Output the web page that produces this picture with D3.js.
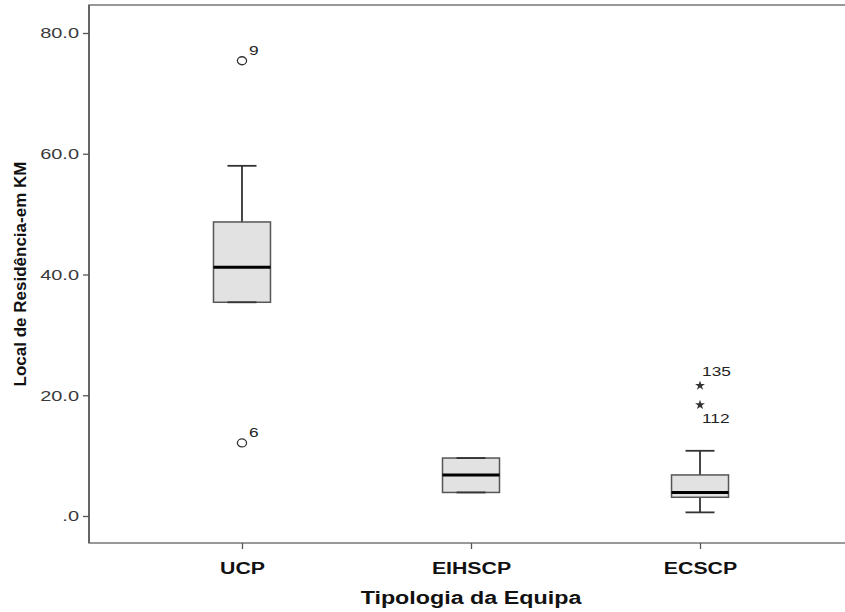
<!DOCTYPE html>
<html>
  <head>
    <meta charset="utf-8">
    <title>Boxplot</title>
    <script src="https://d3js.org/d3.v7.min.js" type="text/javascript"></script>
    <style>
      body { margin: 0; background: #fff; }
      text { font-family: "Liberation Sans", Arial, sans-serif; }
    </style>
  </head>
  <body>
    <script>
      // data
      var categories = ["UCP", "EIHSCP", "ECSCP"];
      var q1 = [35.4, 3.9, 3.1];
      var medians = [41.2, 6.8, 3.9];
      var q3 = [48.7, 9.6, 6.8];
      var whiskerLow = [35.4, 3.9, 0.6];
      var whiskerHigh = [58.0, 9.6, 10.8];

      var outlierCats = ["UCP", "UCP", "ECSCP", "ECSCP"];
      var outlierValues = [75.4, 12.1, 21.6, 18.4];
      var outlierIds = ["9", "6", "135", "112"];
      var outlierKinds = ["circle", "circle", "star", "star"];

      var yTicks = [0, 20, 40, 60, 80];
      var yTitle = "Local de Residência-em KM";
      var xTitle = "Tipologia da Equipa";

      var w = 845, h = 612;
      var plotL = 89, plotT = 5, plotB = 543, plotR = 853;
      var stretch = 1.33; // reference text is wider than plain Arial

      var svg = d3.select("body").append("svg")
        .attr("width", w)
        .attr("height", h);

      var x = d3.scalePoint()
        .domain(categories)
        .range([plotL, plotR])
        .padding(0.668);

      var y = d3.scaleLinear()
        .domain([0, 80])
        .range([516, 33]);

      var boxW = 57, capW = 29;

      function widen(sel) {
        sel.each(function() {
          var len = this.getComputedTextLength();
          d3.select(this)
            .attr("textLength", len * stretch)
            .attr("lengthAdjust", "spacingAndGlyphs");
        });
      }

      // frame
      svg.append("rect")
        .attr("x", plotL)
        .attr("y", plotT)
        .attr("width", plotR - plotL)
        .attr("height", plotB - plotT)
        .attr("fill", "none")
        .attr("stroke", "#777")
        .attr("stroke-width", 1.5);

      svg.append("line")
        .attr("x1", plotL).attr("x2", plotL)
        .attr("y1", plotT).attr("y2", plotB)
        .attr("stroke", "#555")
        .attr("stroke-width", 1.5);

      // y axis
      var yAxis = d3.axisLeft(y)
        .tickValues(yTicks)
        .tickSize(6)
        .tickSizeOuter(0)
        .tickPadding(4)
        .tickFormat(function(v) { return v === 0 ? ".0" : v.toFixed(1); });

      var gy = svg.append("g")
        .attr("transform", "translate(" + plotL + ",0)")
        .call(yAxis);
      gy.select(".domain").remove();
      gy.selectAll("line").attr("stroke", "#555").attr("stroke-width", 1.3);
      gy.selectAll("text")
        .attr("fill", "#3a3a3a")
        .style("font-size", "15px")
        .call(widen);

      // x axis
      var xAxis = d3.axisBottom(x)
        .tickSize(6)
        .tickSizeOuter(0)
        .tickPadding(14);

      var gx = svg.append("g")
        .attr("transform", "translate(0," + plotB + ")")
        .call(xAxis);
      gx.select(".domain").remove();
      gx.selectAll("line").attr("stroke", "#555").attr("stroke-width", 1.3);
      gx.selectAll("text")
        .attr("fill", "#111")
        .style("font-size", "16px")
        .style("font-weight", "bold")
        .call(widen);

      // titles
      svg.append("text")
        .attr("transform", "translate(26," + ((plotT + plotB) / 2) + ") rotate(-90)")
        .attr("text-anchor", "middle")
        .style("font-size", "17px")
        .style("font-weight", "bold")
        .attr("fill", "#111")
        .text(yTitle);

      svg.append("text")
        .attr("x", x("EIHSCP"))
        .attr("y", 604)
        .attr("text-anchor", "middle")
        .style("font-size", "17.5px")
        .style("font-weight", "bold")
        .attr("fill", "#111")
        .text(xTitle)
        .call(widen);

      // boxes
      var boxes = categories.map(function(c, i) {
        return { cat: c, q1: q1[i], med: medians[i], q3: q3[i], lo: whiskerLow[i], hi: whiskerHigh[i] };
      });

      var g = svg.selectAll(".box")
        .data(boxes)
        .enter().append("g")
        .attr("class", "box");

      // whisker stem
      g.append("line")
        .attr("x1", function(d) { return x(d.cat); })
        .attr("x2", function(d) { return x(d.cat); })
        .attr("y1", function(d) { return y(d.hi); })
        .attr("y2", function(d) { return y(d.lo); })
        .attr("stroke", "#333")
        .attr("stroke-width", 1.8);

      g.append("rect")
        .attr("x", function(d) { return x(d.cat) - boxW / 2; })
        .attr("y", function(d) { return y(d.q3); })
        .attr("width", boxW)
        .attr("height", function(d) { return y(d.q1) - y(d.q3); })
        .attr("fill", "#e2e2e2")
        .attr("stroke", "#555")
        .attr("stroke-width", 1.5);

      // caps, drawn over box edges like the reference
      ["hi", "lo"].forEach(function(k) {
        g.append("line")
          .attr("x1", function(d) { return x(d.cat) - capW / 2; })
          .attr("x2", function(d) { return x(d.cat) + capW / 2; })
          .attr("y1", function(d) { return y(d[k]); })
          .attr("y2", function(d) { return y(d[k]); })
          .attr("stroke", "#333")
          .attr("stroke-width", 1.8);
      });

      g.append("line")
        .attr("x1", function(d) { return x(d.cat) - boxW / 2; })
        .attr("x2", function(d) { return x(d.cat) + boxW / 2; })
        .attr("y1", function(d) { return y(d.med); })
        .attr("y2", function(d) { return y(d.med); })
        .attr("stroke", "#000")
        .attr("stroke-width", 3);

      // outliers
      var outs = outlierIds.map(function(id, i) {
        return { cat: outlierCats[i], v: outlierValues[i], id: id, kind: outlierKinds[i] };
      });

      var og = svg.selectAll(".outlier")
        .data(outs)
        .enter().append("g")
        .attr("class", "outlier")
        .attr("transform", function(d) { return "translate(" + x(d.cat) + "," + y(d.v) + ")"; });

      og.filter(function(d) { return d.kind === "circle"; })
        .append("ellipse")
        .attr("rx", 4.6)
        .attr("ry", 4)
        .attr("fill", "none")
        .attr("stroke", "#333")
        .attr("stroke-width", 1.3);

      og.filter(function(d) { return d.kind === "star"; })
        .append("path")
        .attr("d", d3.symbol().type(d3.symbolStar).size(30))
        .attr("fill", "#333");

      og.append("text")
        .attr("x", function(d) { return d.kind === "circle" ? 7 : 2; })
        .attr("y", function(d) {
          if (d.kind === "circle") return -6;
          return d.id === "135" ? -10 : 18;
        })
        .style("font-size", "13px")
        .attr("fill", "#222")
        .text(function(d) { return d.id; })
        .call(widen);
    </script>
  </body>
</html>
